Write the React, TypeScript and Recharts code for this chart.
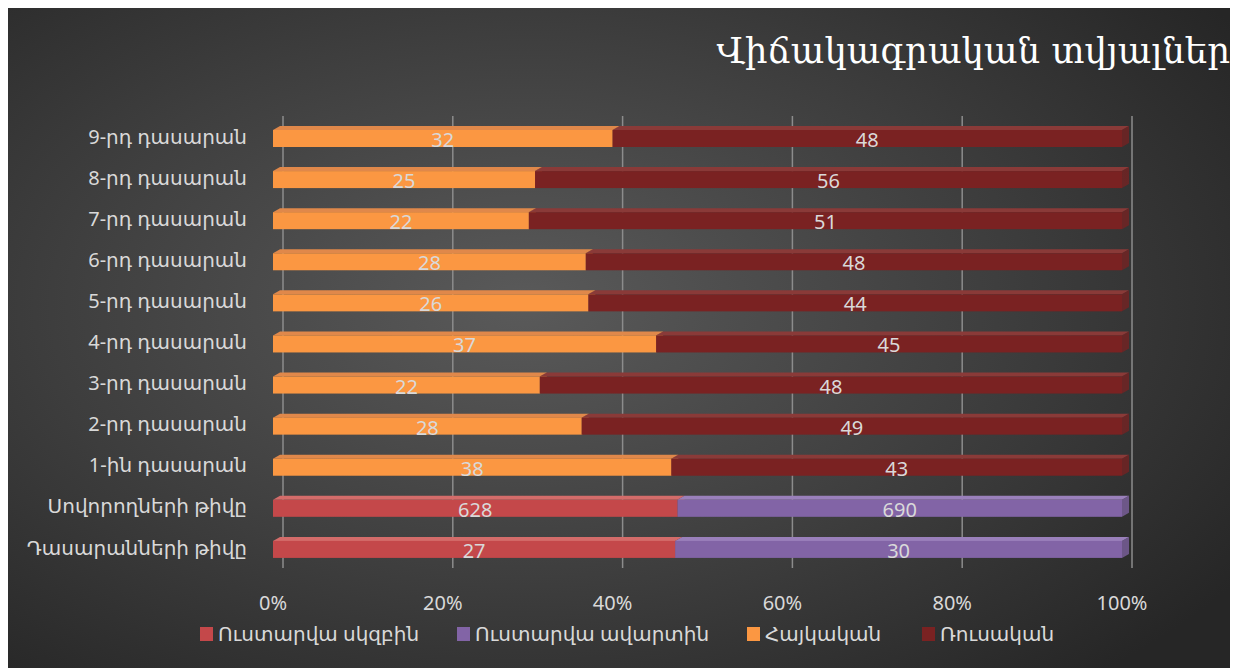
import React from 'react';
import { BarChart, Bar, XAxis, YAxis, CartesianGrid, LabelList } from 'recharts';

const categories = [
  '9-րդ դասարան',
  '8-րդ դասարան',
  '7-րդ դասարան',
  '6-րդ դասարան',
  '5-րդ դասարան',
  '4-րդ դասարան',
  '3-րդ դասարան',
  '2-րդ դասարան',
  '1-ին դասարան',
  'Սովորողների թիվը',
  'Դասարանների թիվը',
];

const yearStart = [0, 0, 0, 0, 0, 0, 0, 0, 0, 628, 27];
const yearEnd = [0, 0, 0, 0, 0, 0, 0, 0, 0, 690, 30];
const armenian = [32, 25, 22, 28, 26, 37, 22, 28, 38, 0, 0];
const russian = [48, 56, 51, 48, 44, 45, 48, 49, 43, 0, 0];

const xTicks = [0, 0.2, 0.4, 0.6, 0.8, 1];

const series = [
  { key: 'start', name: 'Ուստարվա սկզբին', color: '#c4484a', top: '#d46c6a' },
  { key: 'end', name: 'Ուստարվա ավարտին', color: '#8264a6', top: '#9a80bb' },
  { key: 'hy', name: 'Հայկական', color: '#fb9742', top: '#e0884a' },
  { key: 'ru', name: 'Ռուսական', color: '#7a2222', top: '#8a3a38' },
];

// legend item left edges
const legendLeft = [192, 449, 739, 914];

const data = categories.map((c, i) => ({
  name: c,
  start: yearStart[i],
  end: yearEnd[i],
  hy: armenian[i],
  ru: russian[i],
}));

const FONT = "'Noto Sans', 'DejaVu Sans', sans-serif";
const DX = 7;
const DY = 4;

function Bar3D(props: any) {
  const { x, y, width, height, fill, topFill } = props;
  if (!width || width <= 0) return null;
  const fy = y + DY;
  const fh = height - DY;
  return (
    <g>
      <polygon
        points={`${x},${fy} ${x + DX},${y} ${x + width + DX},${y} ${x + width},${fy}`}
        fill={topFill}
      />
      <polygon
        points={`${x + width},${fy} ${x + width + DX},${y} ${x + width + DX},${y + fh} ${x + width},${fy + fh}`}
        fill={fill}
        opacity={0.75}
      />
      <rect x={x} y={fy} width={width} height={fh} fill={fill} />
    </g>
  );
}

function CenterLabel(props: any) {
  const { x, y, width, height, value } = props;
  if (!value) return null;
  return (
    <text
      x={x + width / 2}
      y={y + DY + (height - DY) / 2 + 1}
      textAnchor="middle"
      dominantBaseline="central"
      fill="#d9d9d9"
      fontSize={20}
      fontFamily={FONT}
    >
      {value}
    </text>
  );
}

export default function App() {
  return (
    <div
      style={{
        position: 'relative',
        width: 1230,
        height: 660,
        background: 'radial-gradient(ellipse 70% 75% at 42% 45%, #5a5a5a 0%, #3e3e3e 55%, #262626 100%)',
        fontFamily: FONT,
      }}
    >
      <div
        style={{
          position: 'absolute',
          right: 8,
          top: 22,
          color: '#ffffff',
          fontSize: 35.5,
          fontFamily: "'DejaVu Serif', serif",
        }}
      >
        Վիճակագրական տվյալներ
      </div>
      <BarChart
        width={1230}
        height={660}
        data={data}
        layout="vertical"
        stackOffset="expand"
        barSize={21}
        margin={{ top: 108, right: 116, bottom: 60, left: 0 }}
      >
        <CartesianGrid
          horizontal={false}
          stroke="#8c8c8c"
          strokeWidth={1.5}
          verticalCoordinatesGenerator={({ offset }: any) =>
            xTicks.map((t) => offset.left + offset.width * t + 10)
          }
        />
        <XAxis
          type="number"
          domain={[0, 1]}
          ticks={xTicks}
          tickFormatter={(v: number) => `${Math.round(v * 100)}%`}
          axisLine={false}
          tickLine={false}
          height={40}
          tickMargin={22}
          tick={{ fill: '#d9d9d9', fontSize: 20, fontFamily: FONT }}
        />
        <YAxis
          type="category"
          dataKey="name"
          width={265}
          axisLine={false}
          tickLine={false}
          tickSize={0}
          tickMargin={26}
          tick={{ fill: '#d9d9d9', fontSize: 20, fontFamily: FONT }}
        />
        {series.map((s) => (
          <Bar
            key={s.key}
            dataKey={s.key}
            name={s.name}
            stackId="a"
            fill={s.color}
            isAnimationActive={false}
            shape={(p: any) => <Bar3D {...p} fill={s.color} topFill={s.top} />}
          >
            <LabelList dataKey={s.key} content={<CenterLabel />} />
          </Bar>
        ))}
      </BarChart>
      {series.map((s, i) => (
        <div
          key={s.key}
          style={{
            position: 'absolute',
            left: legendLeft[i],
            top: 612,
            display: 'flex',
            alignItems: 'center',
            color: '#d9d9d9',
            fontSize: 20,
            whiteSpace: 'nowrap',
          }}
        >
          <span
            style={{
              display: 'inline-block',
              width: 13,
              height: 14,
              background: s.color,
              marginRight: 5,
            }}
          />
          <span>{s.name}</span>
        </div>
      ))}
    </div>
  );
}
